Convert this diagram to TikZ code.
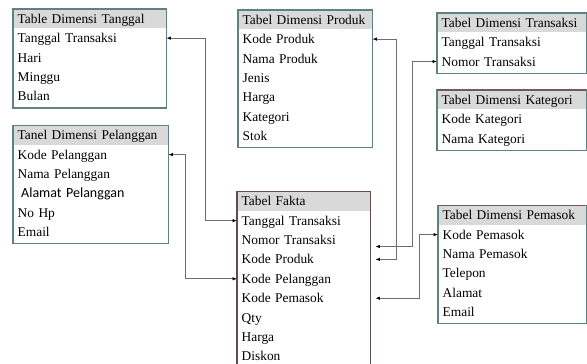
\documentclass[tikz,border=0pt]{standalone}
\usepackage{fontspec}
\setmainfont{Liberation Serif}
\newfontfamily\calibfont{Carlito}
\usetikzlibrary{arrows.meta}
\definecolor{hdrgray}{HTML}{D9D9D9}
\definecolor{tealgray}{HTML}{5E8282}
\definecolor{brgray}{HTML}{735A5A}
\definecolor{linegray}{HTML}{6E6E6E}
\begin{document}
\begin{tikzpicture}[x=1bp,y=-1bp,
  cell/.style={minimum height=19bp, inner xsep=4.5bp, inner ysep=0pt, text height=12bp, text depth=3bp, align=left, anchor=north west, font=\fontsize{13.4bp}{16bp}\selectfont, text=black},
  hdr/.style={cell, fill=hdrgray},
  tbl/.style={draw=tealgray, line width=1.1bp},
  topline/.style={draw=brgray, line width=1.1bp},
  link/.style={draw=linegray, line width=0.8bp, {Latex[length=4.5bp,width=3.5bp,color=black]}-{Latex[length=4.5bp,width=3.5bp,color=black]}},
]
\useasboundingbox (0,0) rectangle (587,363);
\clip (0,0) rectangle (587,363);

% Table Dimensi Tanggal
\node[hdr, text width=144bp] (tg0) at (13,9) {Table Dimensi Tanggal};
\node[cell, text width=144bp] (tg1) at (tg0.south west) {Tanggal Transaksi};
\node[cell, text width=144bp] (tg2) at (tg1.south west) {Hari};
\node[cell, text width=144bp] (tg3) at (tg2.south west) {Minggu};
\node[cell, text width=144bp] (tg4) at (tg3.south west) {Bulan};
\draw[tbl] (tg0.north west) rectangle ([yshift=-2bp]tg4.south east);

% Tabel Dimensi Produk
\node[hdr, text width=125bp] (pr0) at (238,10) {Tabel Dimensi Produk};
\node[cell, text width=125bp] (pr1) at (pr0.south west) {Kode Produk};
\node[cell, text width=125bp] (pr2) at (pr1.south west) {Nama Produk};
\node[cell, text width=125bp] (pr3) at (pr2.south west) {Jenis};
\node[cell, text width=125bp] (pr4) at (pr3.south west) {Harga};
\node[cell, text width=125bp] (pr5) at (pr4.south west) {Kategori};
\node[cell, text width=125bp] (pr6) at (pr5.south west) {Stok};
\draw[tbl] (pr0.north west) rectangle ([yshift=-2bp]pr6.south east);

% Tabel Dimensi Transaksi
\node[hdr, text width=140bp] (tr0) at (437,13) {Tabel Dimensi Transaksi};
\node[cell, text width=140bp] (tr1) at (tr0.south west) {Tanggal Transaksi};
\node[cell, text width=140bp] (tr2) at (tr1.south west) {Nomor Transaksi};
\draw[tbl] (tr0.north west) rectangle ([yshift=-2bp]tr2.south east);

% Tabel Dimensi Kategori
\node[hdr, text width=140bp] (kt0) at (437,90) {Tabel Dimensi Kategori};
\node[cell, text width=140bp] (kt1) at (kt0.south west) {Kode Kategori};
\node[cell, text width=140bp] (kt2) at (kt1.south west) {Nama Kategori};
\draw[tbl] (kt0.north west) rectangle ([yshift=-2bp]kt2.south east);
\draw[topline] (kt0.north west) -- (kt0.north east);

% Tanel Dimensi Pelanggan
\node[hdr, text width=146bp] (pl0) at (13,125.5) {Tanel Dimensi Pelanggan};
\node[cell, text width=146bp] (pl1) at (pl0.south west) {Kode Pelanggan};
\node[cell, text width=146bp] (pl2) at (pl1.south west) {Nama Pelanggan};
\node[cell, text width=146bp] (pl3) at (pl2.south west) {\calibfont\fontsize{14bp}{16bp}\selectfont\hspace*{3.5bp}Alamat Pelanggan};
\node[cell, text width=146bp] (pl4) at (pl3.south west) {No Hp};
\node[cell, text width=146bp] (pl5) at (pl4.south west) {Email};
\draw[tbl] (pl0.north west) rectangle ([yshift=-2bp]pl5.south east);

% Tabel Fakta
\node[hdr, text width=124bp] (fk0) at (237,191.5) {Tabel Fakta};
\node[cell, text width=124bp] (fk1) at (fk0.south west) {Tanggal Transaksi};
\node[cell, text width=124bp] (fk2) at (fk1.south west) {Nomor Transaksi};
\node[cell, text width=124bp] (fk3) at (fk2.south west) {Kode Produk};
\node[cell, text width=124bp] (fk4) at (fk3.south west) {Kode Pelanggan};
\node[cell, text width=124bp] (fk5) at (fk4.south west) {Kode Pemasok};
\node[cell, text width=124bp] (fk6) at (fk5.south west) {Qty};
\node[cell, text width=124bp] (fk7) at (fk6.south west) {Harga};
\node[cell, text width=124bp] (fk8) at (fk7.south west) {Diskon};
\draw[tbl, draw=brgray!85!black] (fk0.north west) rectangle ([yshift=-2bp]fk8.south east);

% Tabel Dimensi Pemasok
\node[hdr, text width=139bp] (pm0) at (438,205.5) {Tabel Dimensi Pemasok};
\node[cell, text width=139bp] (pm1) at (pm0.south west) {Kode Pemasok};
\node[cell, text width=139bp] (pm2) at (pm1.south west) {Nama Pemasok};
\node[cell, text width=139bp] (pm3) at (pm2.south west) {Telepon};
\node[cell, text width=139bp] (pm4) at (pm3.south west) {Alamat};
\node[cell, text width=139bp] (pm5) at (pm4.south west) {Email};
\draw[tbl] (pm0.north west) rectangle ([yshift=-2bp]pm5.south east);
\draw[topline] (pm0.north west) -- (pm0.north east);

% connector routing columns
\coordinate (vT) at (205,0);
\coordinate (vP) at (185,0);
\coordinate (vR) at (396,0);
\coordinate (vS) at (412,0);
\coordinate (vM) at (419,0);

% connectors
\draw[link] (tg1.east) -- (tg1.east -| vT) |- (fk1.west);
\draw[link] (pl1.east) -- (pl1.east -| vP) |- (fk4.west);
\draw[link] (pr1.east) -- (pr1.east -| vR) |- ([xshift=5bp]fk3.east);
\draw[link] (tr2.west) -- (tr2.west -| vS) |- ([xshift=5bp,yshift=-6.5bp]fk2.east);
\draw[link] (pm1.west) -- (pm1.west -| vM) |- ([xshift=5bp]fk5.east);
\end{tikzpicture}
\end{document}
